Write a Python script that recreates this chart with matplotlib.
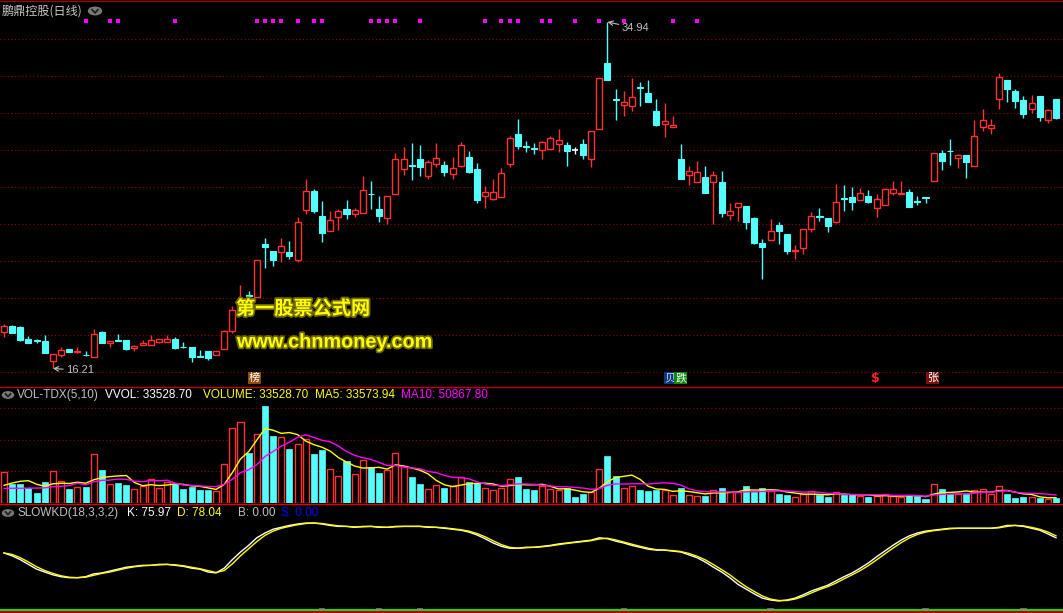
import matplotlib
matplotlib.use('Agg')
import matplotlib.pyplot as plt
import matplotlib.patheffects as pe
from matplotlib.lines import Line2D
from matplotlib.patches import Circle
import numpy as np
import pandas as pd

# ---------------- data ----------------
opens = [18.16, 18.50, 18.45, 17.80, 17.73, 17.71, 16.63, 16.92, 17.26, 17.09,
         16.93, 16.85, 18.18, 17.57, 17.73, 17.75, 17.30, 17.46, 17.46, 17.66,
         17.66, 17.80, 17.37, 17.37, 16.86, 17.15, 16.92, 17.24, 18.22, 19.35,
         20.16, 20.09, 22.92, 22.58, 22.52, 22.50, 22.05, 24.77, 25.80, 24.45,
         23.66, 24.41, 24.81, 24.54, 24.59, 25.66, 24.83, 24.36, 25.66, 27.01,
         27.19, 27.53, 26.63, 27.28, 27.19, 26.74, 27.17, 27.64, 26.99, 25.55,
         25.39, 25.50, 27.24, 28.88, 28.22, 28.11, 28.04, 28.09, 28.36, 28.27,
         28.00, 28.34, 27.55, 29.14, 32.70, 30.76, 30.47, 30.41, 31.43, 31.10,
         30.13, 29.44, 29.24, 27.51, 26.65, 26.31, 26.56, 26.31, 26.29, 24.52,
         24.92, 24.99, 24.34, 22.99, 23.17, 23.96, 23.48, 22.58, 22.70, 23.73,
         24.43, 24.34, 24.14, 25.41, 25.48, 25.30, 25.53, 24.90, 25.06, 25.68,
         25.62, 25.75, 25.25, 25.46, 26.32, 27.84, 27.98, 27.60, 27.73, 27.17,
         29.28, 29.22, 30.79, 31.80, 31.21, 30.70, 30.25, 30.94, 29.62, 30.77]
closes = [18.50, 18.14, 17.75, 17.60, 17.69, 17.06, 16.99, 17.21, 17.12, 17.17,
          16.91, 18.07, 17.60, 17.69, 17.71, 17.26, 17.44, 17.60, 17.75, 17.78,
          17.80, 17.32, 17.35, 16.85, 16.84, 16.79, 17.15, 18.23, 19.35, 19.91,
          20.12, 22.05, 22.79, 22.07, 22.83, 22.29, 24.11, 25.80, 24.72, 23.55,
          24.22, 24.72, 24.58, 24.76, 25.84, 25.62, 24.45, 25.51, 27.51, 27.51,
          27.15, 27.12, 27.35, 27.59, 26.85, 27.03, 28.27, 26.83, 25.33, 25.73,
          25.73, 26.76, 28.65, 28.25, 28.18, 28.07, 28.43, 28.65, 28.54, 27.98,
          28.00, 27.77, 29.03, 31.89, 31.82, 30.72, 30.61, 30.86, 31.39, 30.63,
          29.39, 29.57, 29.35, 26.47, 26.87, 26.81, 25.71, 26.65, 24.63, 24.70,
          25.13, 24.14, 22.99, 22.79, 23.62, 23.66, 22.58, 22.63, 23.73, 24.43,
          24.40, 23.93, 25.19, 25.37, 25.23, 25.68, 25.23, 25.35, 25.91, 25.89,
          25.68, 24.95, 25.21, 25.42, 27.84, 27.44, 27.95, 27.73, 27.39, 28.76,
          29.62, 29.35, 31.95, 31.33, 30.68, 29.98, 30.54, 29.82, 30.16, 29.77]
highs = [18.61, 18.56, 18.50, 17.95, 17.80, 18.02, 16.99, 17.35, 17.28, 17.37,
         17.15, 18.34, 18.22, 17.69, 18.07, 17.75, 17.48, 17.75, 18.02, 17.78,
         18.00, 17.91, 17.64, 17.37, 17.21, 17.15, 17.15, 18.29, 19.59, 20.72,
         20.38, 22.05, 23.24, 22.58, 23.24, 23.10, 24.38, 26.43, 25.89, 25.26,
         24.72, 24.85, 25.32, 24.86, 26.61, 26.32, 25.53, 25.51, 27.84, 28.18,
         28.40, 28.29, 27.48, 28.40, 27.42, 27.64, 28.45, 27.96, 27.30, 26.07,
         26.45, 27.03, 28.77, 29.69, 28.50, 28.38, 28.50, 28.77, 29.15, 28.45,
         28.18, 28.61, 29.03, 31.89, 34.94, 31.32, 31.21, 31.89, 31.69, 31.80,
         30.77, 30.54, 29.84, 28.32, 27.15, 27.41, 27.15, 26.88, 26.88, 25.15,
         25.13, 24.99, 24.38, 23.21, 24.29, 24.13, 23.48, 22.86, 23.73, 24.65,
         24.88, 24.34, 26.18, 26.13, 26.02, 25.96, 25.86, 25.64, 25.96, 26.34,
         26.34, 25.89, 25.53, 25.46, 27.84, 28.02, 28.61, 27.80, 27.73, 29.64,
         30.22, 29.69, 32.16, 31.80, 31.32, 30.92, 30.99, 30.94, 30.23, 30.77]
lows = [17.93, 18.12, 17.69, 17.60, 17.57, 17.06, 16.21, 16.81, 17.10, 17.07,
        16.90, 16.85, 17.60, 17.39, 17.71, 17.23, 17.15, 17.46, 17.46, 17.57,
        17.66, 17.28, 17.33, 16.58, 16.83, 16.67, 16.92, 17.24, 18.14, 19.30,
        19.91, 20.05, 21.66, 21.75, 21.98, 22.11, 21.98, 24.56, 24.63, 23.06,
        23.66, 23.69, 24.29, 24.38, 24.59, 24.83, 24.14, 24.04, 25.66, 26.67,
        26.40, 26.61, 26.47, 27.10, 26.63, 26.47, 27.10, 26.79, 25.17, 24.90,
        25.30, 25.50, 27.12, 28.05, 27.93, 27.82, 27.55, 28.09, 27.93, 27.17,
        27.82, 27.55, 27.12, 29.14, 31.82, 29.66, 29.87, 30.14, 30.41, 30.63,
        29.32, 28.74, 29.24, 26.47, 26.14, 26.31, 25.71, 24.04, 24.41, 24.25,
        24.20, 23.77, 22.95, 21.06, 23.17, 22.95, 22.41, 22.14, 22.41, 23.60,
        24.20, 23.60, 24.05, 24.74, 24.79, 25.30, 25.14, 24.41, 25.03, 25.57,
        25.62, 24.95, 25.06, 25.17, 26.32, 26.95, 27.23, 27.06, 26.52, 27.17,
        29.06, 28.90, 30.25, 30.61, 30.29, 29.77, 30.00, 29.59, 29.48, 29.68]
volumes = [193700, 122100, 117900, 96800, 61000, 130500, 200000, 136800, 86300, 103100,
           98900, 307300, 206300, 117900, 124200, 111600, 86300, 105300, 149500, 96800,
           130500, 122100, 88400, 103100, 82100, 82100, 73700, 244200, 475700, 513600,
           313600, 437800, 610500, 421000, 414700, 338900, 374700, 406300, 307300, 332600,
           216800, 172600, 263100, 181000, 269400, 225200, 187300, 206300, 317900, 231600,
           162100, 117900, 90500, 111600, 92600, 105300, 164200, 132600, 126300, 96800,
           80000, 92600, 153700, 162100, 86300, 80000, 107400, 90500, 80000, 92600,
           35800, 54700, 71600, 212600, 294700, 170500, 92600, 109500, 80000, 75800,
           84200, 80000, 48400, 96800, 52600, 46300, 42100, 80000, 96800, 67400,
           67400, 105300, 71600, 96800, 75800, 54700, 48400, 40000, 58900, 75800,
           48400, 35800, 71600, 52600, 52600, 44200, 35800, 42100, 56800, 42100,
           40000, 50500, 44200, 23200, 122100, 90500, 54700, 58900, 54700, 84200,
           88400, 54700, 109500, 58900, 29308.3, 36000, 38000, 33000, 27341, 33528.70]
# MA values at the left edge (they include days before the visible window)
ma5_head = [111600, 126000, 136800, 141000]
ma10_head = [92000, 93000, 93000, 94000, 94000, 96000, 103000, 106000, 110000]
k_vals = [60, 57, 53, 48, 43, 40, 37, 35, 34, 34,
          35, 38, 39, 41, 43, 45, 46, 47, 47, 48,
          48, 47, 46, 44, 43, 40, 39, 44, 53, 61,
          68, 76, 81, 85, 87, 89, 90.5, 91.5, 91.5, 90.5,
          89, 88, 88, 87, 88, 88, 87, 87, 88, 88,
          88, 88, 87, 87, 86, 85, 84, 82, 79, 75,
          70.5, 67, 65, 65, 66, 66, 67, 68, 69.5, 70.5,
          71.5, 72.5, 73.5, 76, 75, 72.5, 70.5, 68, 66, 64,
          63, 63, 62, 61, 58, 55, 50.5, 45, 40, 34,
          27, 22, 17, 12.5, 10.5, 9.5, 10.5, 12.5, 16, 20,
          23, 26, 30.5, 35, 39, 44, 49.5, 56, 62, 68,
          73.5, 78, 81, 83, 84, 85, 86, 86, 86, 86,
          86, 86, 87, 89, 89, 88, 86, 84, 80.11, 75.97]
kd_n1 = 2  # SLOWKD(18,3,3,2): D = MA(K, 2)
top_signal_idx = [10, 13, 14, 21, 31, 32, 33, 34, 36, 38, 39, 45, 46, 47, 48, 51,
                  59, 61, 62, 63, 66, 67, 70, 73, 76, 82, 85]
bottom_signal_idx = [39, 46, 51, 76, 94, 113, 125]
title = "鹏鼎控股(日线)"

# ---------------- layout ----------------
W, H = 1063, 613
fig = plt.figure(figsize=(W / 100, H / 100), dpi=100, facecolor='black')


def rect(top, bottom):
    return [0, (H - bottom) / H, 1, (bottom - top) / H]


P_TOP, P_BOT = 2, 386
ax_p = fig.add_axes(rect(P_TOP, P_BOT))
ax_v = fig.add_axes(rect(388, 503))
ax_k = fig.add_axes(rect(505, 613))
n = len(opens)
x = np.arange(n)
for ax in (ax_p, ax_v, ax_k):
    ax.set_facecolor('black')
    ax.set_axis_off()
    ax.set_xlim(-0.49, 129.86)

RED = '#ff3232'
CYAN = '#54fcfc'
GRID = '#a00000'

# ---------------- price panel ----------------
ax_p.set_ylim(15.26, 36.02)
for v in range(16, 35, 2):
    ax_p.axhline(v, color=GRID, lw=0.75, linestyle=(0, (1, 2.5)), zorder=0)

bw = 0.74
for i in range(n):
    o, c, h, l = opens[i], closes[i], highs[i], lows[i]
    lo_b, hi_b = min(o, c), max(o, c)
    if c > o:
        ax_p.vlines(i, l, lo_b, color=RED, lw=1, zorder=2)
        ax_p.vlines(i, hi_b, h, color=RED, lw=1, zorder=2)
        ax_p.bar(i, hi_b - lo_b, bottom=lo_b, width=bw, facecolor='black',
                 edgecolor=RED, lw=1, zorder=3)
    elif c < o:
        ax_p.vlines(i, l, h, color=CYAN, lw=1, zorder=2)
        ax_p.bar(i, hi_b - lo_b, bottom=lo_b, width=bw, facecolor=CYAN,
                 edgecolor=CYAN, lw=0.8, zorder=3)
    else:
        ax_p.vlines(i, l, h, color='white', lw=1, zorder=2)
        ax_p.hlines(o, i - bw / 2, i + bw / 2, color='white', lw=1.2, zorder=3)

# top magenta signal dots
ax_p.scatter(top_signal_idx, [34.98] * len(top_signal_idx), marker='s', s=5,
             color='#ff00ff', lw=0, zorder=4)

# high / low annotations
imax = int(np.argmax(highs))
imin = int(np.argmin(lows))
ax_p.annotate(f"{highs[imax]:.2f}", xy=(imax, highs[imax]), xytext=(14, -6),
              textcoords='offset pixels', color='#c0c0c0', fontsize=8,
              family='Liberation Sans', va='center', ha='left',
              arrowprops=dict(arrowstyle='->', color='#c0c0c0', lw=0.8,
                              shrinkA=0, shrinkB=0))
ax_p.annotate(f"{lows[imin]:.2f}", xy=(imin, lows[imin]), xytext=(13, -2),
              textcoords='offset pixels', color='#c0c0c0', fontsize=8,
              family='Liberation Sans', va='center', ha='left',
              arrowprops=dict(arrowstyle='->', color='#c0c0c0', lw=0.8,
                              shrinkA=0, shrinkB=0))

CJK = ['Noto Sans CJK SC', 'DejaVu Sans']


def afy(ypx):
    return (P_BOT - ypx) / (P_BOT - P_TOP)


# watermark
wm_fx = [pe.withStroke(linewidth=2.5, foreground='#6e6a00')]
ax_p.text(236 / W, afy(309), "第一股票公式网", color='#ffff00', fontsize=13.8,
          fontweight='bold', family=CJK, va='center', ha='left',
          path_effects=wm_fx, zorder=6, transform=ax_p.transAxes)
ax_p.text(237 / W, afy(342), "www.chnmoney.com", color='#ffff00', fontsize=14.3,
          fontweight='bold', family='Liberation Sans', va='center', ha='left',
          path_effects=wm_fx, zorder=6, transform=ax_p.transAxes)

# small label boxes at bottom of price panel
lab_y = 15.69


def box(ix, s, fc, tc='white'):
    ax_p.text(ix, lab_y, s, color=tc, fontsize=8, family=CJK, ha='center',
              va='center', zorder=6,
              bbox=dict(boxstyle='square,pad=0.08', fc=fc, ec='none'))


box(30.7, "榜", '#8b4a10')
box(81.7, "贝", '#0c3a78', '#d0d0ff')
box(83.0, "跌", '#0a8a0a')
ax_p.text(106.9, lab_y, "$", color='#ff2020', fontsize=9, fontweight='bold',
          ha='center', va='center', zorder=6)
box(113.9, "张", '#7a1010')

# ---------------- volume panel ----------------
ax_v.set_ylim(0, 726000)
for v in (200000, 400000, 600000):
    ax_v.axhline(v, color=GRID, lw=0.75, linestyle=(0, (1, 2.5)), zorder=0)
vol = pd.Series(volumes, dtype=float)
ma5 = vol.rolling(5).mean()
ma10 = vol.rolling(10).mean()
ma5.iloc[:len(ma5_head)] = ma5_head
ma10.iloc[:len(ma10_head)] = ma10_head
for i in range(n):
    if closes[i] > opens[i]:
        ax_v.bar(i, volumes[i], width=bw, facecolor='black', edgecolor=RED, lw=1, zorder=2)
    else:
        ax_v.bar(i, volumes[i], width=bw, facecolor=CYAN, edgecolor=CYAN, lw=0.5, zorder=2)
ax_v.plot(x, ma5, color='#ffff00', lw=1, zorder=3)
ax_v.plot(x, ma10, color='#ff00ff', lw=1, zorder=3)

# ---------------- KD panel ----------------
ax_k.set_ylim(-3.16, 110.5)
kser = pd.Series(k_vals, dtype=float)
d_vals = kser.rolling(kd_n1, min_periods=1).mean()
ax_k.plot(x, k_vals, color='white', lw=1, zorder=3)
ax_k.plot(x, d_vals, color='#ffff00', lw=1, zorder=3)
ax_k.axhline(0, color='#00ff00', lw=1.3, zorder=2)
ax_k.bar(bottom_signal_idx, [1.4] * len(bottom_signal_idx), bottom=0.6, width=0.8,
         color='#ff00ff', zorder=3)


# ---------------- separators ----------------
def hline_px(y, color, lw):
    fig.add_artist(Line2D([0, 1], [1 - y / H, 1 - y / H], color=color, lw=lw,
                          transform=fig.transFigure))


hline_px(1, '#a00000', 1.0)
hline_px(386.5, '#c00000', 1.0)
hline_px(503.5, '#e00000', 1.0)
hline_px(612, '#e00000', 1.2)


# ---------------- texts ----------------
def ftext(xp, yp, s, color, size=8.5, family='Liberation Sans'):
    fig.text(xp / W, 1 - yp / H, s, color=color, fontsize=size, family=family,
             va='center', ha='left')


def icon(xp, yp, r):
    fig.add_artist(Circle((xp / W, 1 - yp / H), r / W, transform=fig.transFigure,
                          color='#7a7a7a'))
    fig.add_artist(Line2D([(xp - r * 0.45) / W, xp / W, (xp + r * 0.45) / W],
                          [1 - (yp - r * 0.2) / H, 1 - (yp + r * 0.3) / H,
                           1 - (yp - r * 0.2) / H],
                          color='#202020', lw=1.3, transform=fig.transFigure))


ftext(2, 11, title, '#c8c8c8', 8.7, CJK)
icon(95, 11, 6.5)

icon(8, 395, 5.5)
ftext(17, 395, "VOL-TDX(5,10)", '#c0c0c0')
ftext(105, 395, f"VVOL: {volumes[-1]:.2f}", '#ffffff')
ftext(203, 395, f"VOLUME: {volumes[-1]:.2f}", '#ffff00')
ftext(315, 395, f"MA5: {ma5.iloc[-1]:.2f}", '#ffff00')
ftext(401, 395, f"MA10: {ma10.iloc[-1]:.2f}", '#ff00ff')

icon(8, 513, 5.5)
ftext(17, 513, "SLOWKD(18,3,3,2)", '#c0c0c0')
ftext(127, 513, f"K: {k_vals[-1]:.2f}", '#ffffff')
ftext(177, 513, f"D: {d_vals.iloc[-1]:.2f}", '#ffff00')
ftext(238, 513, "B: 0.00", '#c0c0c0')
ftext(281, 513, "S: 0.00", '#0000ff')

fig.savefig('out.png', dpi=100, facecolor='black')
